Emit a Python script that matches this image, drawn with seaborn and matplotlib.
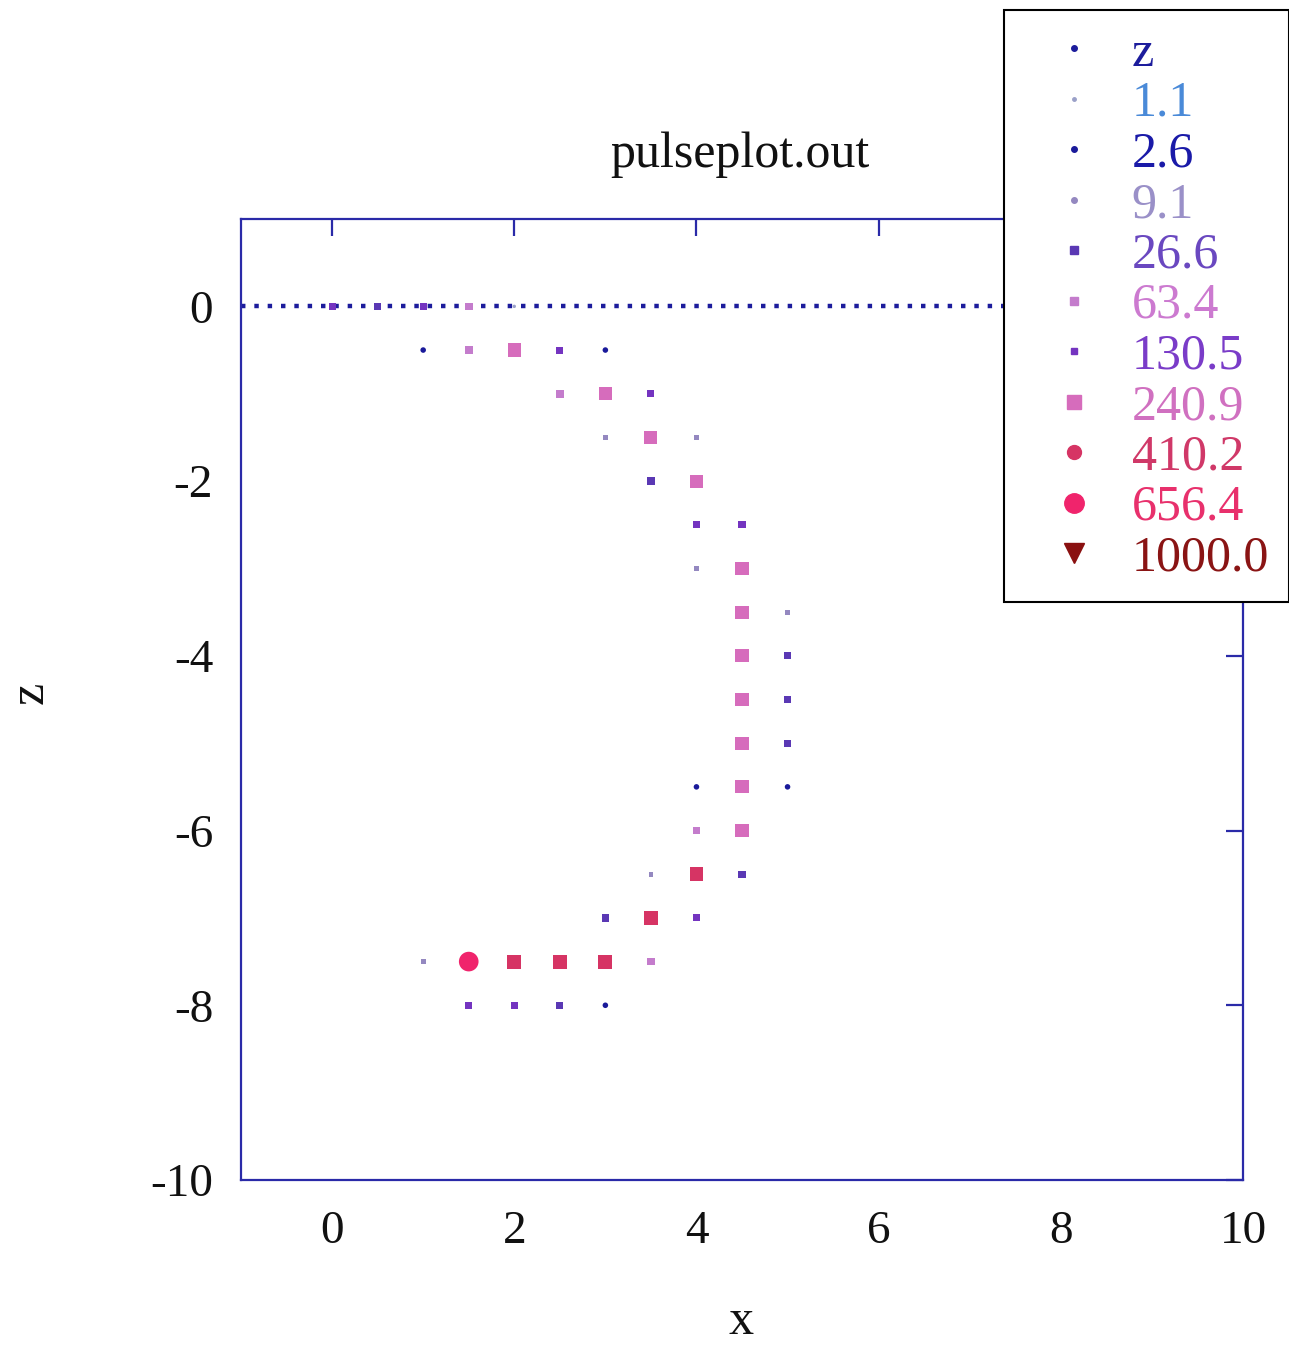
import numpy as np
import pandas as pd
import matplotlib
matplotlib.use("Agg")
import matplotlib.pyplot as plt
from matplotlib.lines import Line2D
import seaborn as sns

# legend categories (gnuplot style levels)
levels = ["z", "1.1", "2.6", "9.1", "26.6", "63.4", "130.5", "240.9", "410.2", "656.4", "1000.0"]
level_colors = ["#1c1c9c", "#9aa0c8", "#1a1a9a", "#9488c0", "#5a38b4", "#c47ccc",
                "#7434c0", "#d66cbc", "#d63464", "#f0246c", "#8a1010"]
text_colors = ["#1c1c9c", "#4a8ad8", "#1a1aa8", "#9a90c8", "#6a48c0", "#cc7ad0",
               "#7a3cc8", "#d070c0", "#d03868", "#e8306c", "#8a1414"]
legend_markers = ["o", "o", "o", "o", "s", "s", "s", "s", "o", "o", "v"]
legend_sizes = [4, 2.5, 4, 4, 6, 6, 5, 9.5, 10, 14, 14]

# pulse points (x, z, level)
xs = [0, 0.5, 1, 1.5, 2,
      1, 1.5, 2, 2.5, 3,
      2.5, 3, 3.5,
      3, 3.5, 4,
      3.5, 4,
      4, 4.5,
      4, 4.5,
      4.5, 5,
      4.5, 5,
      4.5, 5,
      4.5, 5,
      4, 4.5, 5,
      4, 4.5,
      3.5, 4, 4.5,
      3, 3.5, 4,
      1, 1.5, 2, 2.5, 3, 3.5,
      1.5, 2, 2.5, 3]
zs = [0, 0, 0, 0, 0,
      -0.5, -0.5, -0.5, -0.5, -0.5,
      -1, -1, -1,
      -1.5, -1.5, -1.5,
      -2, -2,
      -2.5, -2.5,
      -3, -3,
      -3.5, -3.5,
      -4, -4,
      -4.5, -4.5,
      -5, -5,
      -5.5, -5.5, -5.5,
      -6, -6,
      -6.5, -6.5, -6.5,
      -7, -7, -7,
      -7.5, -7.5, -7.5, -7.5, -7.5, -7.5,
      -8, -8, -8, -8]
cats = ["130.5", "26.6", "130.5", "63.4", "1.1",
        "2.6", "63.4", "240.9", "130.5", "2.6",
        "63.4", "240.9", "130.5",
        "9.1", "240.9", "9.1",
        "26.6", "240.9",
        "130.5", "130.5",
        "9.1", "240.9",
        "240.9", "9.1",
        "240.9", "26.6",
        "240.9", "26.6",
        "240.9", "26.6",
        "2.6", "240.9", "2.6",
        "63.4", "240.9",
        "9.1", "410.2", "26.6",
        "26.6", "410.2", "130.5",
        "9.1", "656.4", "410.2", "410.2", "410.2", "63.4",
        "130.5", "130.5", "26.6", "2.6"]

# baseline z = 0 (dotted)
base_x = [-1, 10]
base_z = [0, 0]

df = pd.DataFrame({"x": xs, "z": zs, "level": cats})

plot_markers = {"1.1": "o", "2.6": "o", "9.1": "s", "26.6": "s", "63.4": "s",
                "130.5": "s", "240.9": "s", "410.2": "s", "656.4": "o"}
plot_sizes = {"1.1": 6, "2.6": 16, "9.1": 12, "26.6": 28, "63.4": 30,
              "130.5": 26, "240.9": 90, "410.2": 100, "656.4": 200}
palette = dict(zip(levels, level_colors))

sns.set_style("white")
plt.rcParams['font.family'] = ['Liberation Serif', 'DejaVu Serif']
plt.rcParams['axes.unicode_minus'] = False

fig = plt.figure(figsize=(12.89, 13.45), dpi=100)
ax = fig.add_axes([241/1289, 1 - 1180/1345, (1243-241)/1289, (1180-219)/1345])

sns.lineplot(x=base_x, y=base_z, ax=ax, color=level_colors[0], lw=3.2,
             linestyle=(0, (1, 2.0)), legend=False, zorder=1)
sns.scatterplot(data=df, x="x", y="z", hue="level", style="level", size="level",
                palette=palette, markers=plot_markers, sizes=plot_sizes,
                linewidth=0, legend=False, ax=ax, zorder=2)

ax.set_xlim(-1, 10)
ax.set_ylim(-10, 1)
ax.set_xticks(range(0, 11, 2))
ax.set_yticks(range(-10, 1, 2))
ax.set_xlabel("")
ax.set_ylabel("")
axis_blue = "#2a2aa8"
for s in ax.spines.values():
    s.set_color(axis_blue)
    s.set_linewidth(1.6)
ax.tick_params(direction="in", length=12, width=1.6, color=axis_blue,
               top=True, right=True, labelsize=34, labelcolor="#111111")
ax.tick_params(axis="x", pad=22)
ax.tick_params(axis="y", pad=20)

fig.text(741/1289, 1 - 1322/1345, "x", fontsize=36, ha="center", va="center", color="#111111")
fig.text(30/1289, 1 - 693/1345, "z", fontsize=36, ha="center", va="center",
         rotation=90, color="#111111")
fig.text(740/1289, 1 - 155/1345, "pulseplot.out", fontsize=36, ha="center",
         va="center", color="#111111")

handles = [Line2D([], [], ls="none", marker=m, ms=s, color=c, mec=c)
           for m, s, c in zip(legend_markers, legend_sizes, level_colors)]
leg = fig.legend(handles, levels, loc="upper right",
                 bbox_to_anchor=(1.0, 1 - 10/1345), fontsize=36,
                 labelcolor=text_colors, frameon=True, fancybox=False,
                 framealpha=1, edgecolor="black", borderpad=0.4,
                 labelspacing=0.08, handlelength=2.0, handletextpad=0.16,
                 borderaxespad=0)
leg.get_frame().set_linewidth(1.5)

fig.savefig("out.png", dpi=100)
